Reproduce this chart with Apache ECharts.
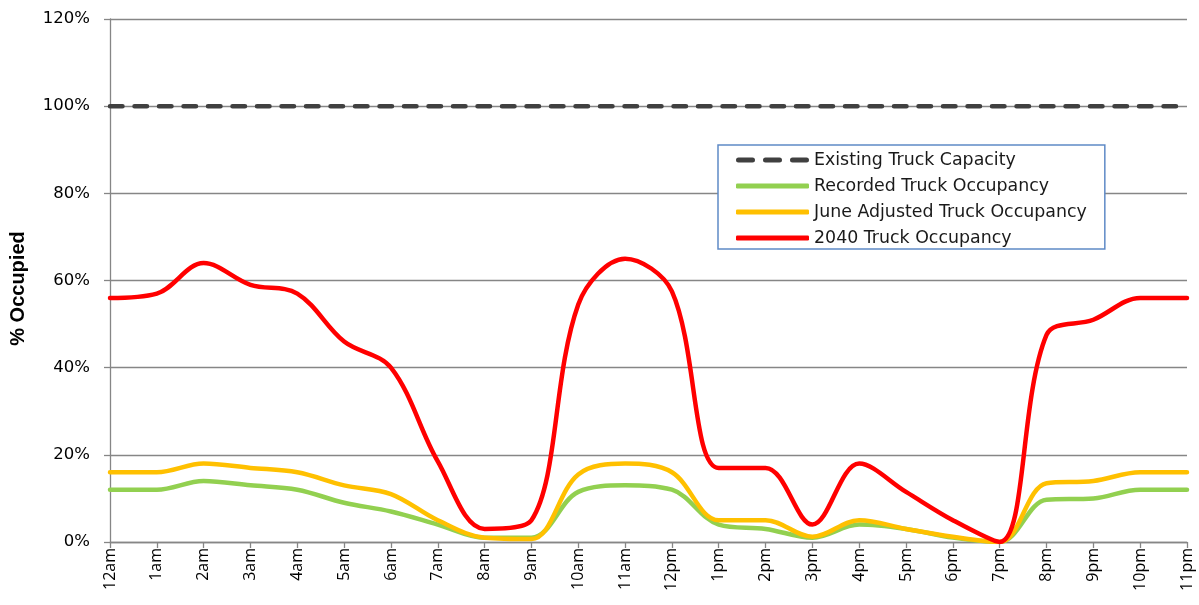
<!DOCTYPE html>
<html>
<head>
<meta charset="utf-8">
<title>Truck Parking Occupancy</title>
<script src="https://cdn.jsdelivr.net/npm/echarts@6/dist/echarts.min.js"></script>
<style>
  html, body { margin: 0; padding: 0; background: #ffffff; }
  #chart { width: 1199px; height: 605px; }
</style>
</head>
<body>
<div id="chart"></div>
<script>
// Hour-of-day categories
var hours = ['12am','1am','2am','3am','4am','5am','6am','7am','8am','9am','10am','11am',
             '12pm','1pm','2pm','3pm','4pm','5pm','6pm','7pm','8pm','9pm','10pm','11pm'];

// Occupancy by hour, in percent
var capacity = [100,100,100,100,100,100,100,100,100,100,100,100,
                100,100,100,100,100,100,100,100,100,100,100,100];
var recorded = [12,12,14,13,12,9,7,4,1,1,11.5,13,12,4,3,1,4,3,1,0,9.7,10,12,12];
var juneAdjusted = [16,16,18,17,16,13,11,5,1,0.7,15.5,18,16,5,5,1.2,5,3,1.2,0,13.5,14,16,16];
var occupancy2040 = [56,57,64,59,57,46,40,18.5,3,5,54.5,65,57.5,17,17,4,18,11.5,5,0,47.5,51,56,56];

// Y-axis ticks
var yTicks = [0,20,40,60,80,100,120];

var seriesNames = ['Existing Truck Capacity','Recorded Truck Occupancy',
                   'June Adjusted Truck Occupancy','2040 Truck Occupancy'];
var seriesColors = ['#404040','#92d050','#ffc000','#ff0000'];

var FONT = '"DejaVu Sans", "Noto Sans", sans-serif';
var TICK_FONT = '"Open Sans", "Noto Sans", sans-serif';
var GRID_GRAY = '#868686';
var SMOOTH = 0.35;

// Legend keys: a dashed bar for capacity, solid rounded bars for occupancy
var DASH_ICON = 'path://M2,0h14a2,2 0 0 1 0,5h-14a2,2 0 0 1 0,-5z' +
                'M29,0h14a2,2 0 0 1 0,5h-14a2,2 0 0 1 0,-5z' +
                'M56,0h14a2,2 0 0 1 0,5h-14a2,2 0 0 1 0,-5z';

var chart = echarts.init(document.getElementById('chart'), null, { renderer: 'canvas' });

function lineSeries(name, data, color, extra) {
  var s = {
    name: name,
    type: 'line',
    data: data,
    smooth: SMOOTH,
    symbol: 'none',
    showSymbol: false,
    clip: true,
    lineStyle: { color: color, width: 4.5, cap: 'round', join: 'round' },
    itemStyle: { color: color },
    emphasis: { disabled: true },
    animation: false
  };
  if (extra) {
    for (var k in extra) s[k] = extra[k];
  }
  return s;
}

var legendData = seriesNames.map(function (n, i) {
  return {
    name: n,
    icon: i === 0 ? DASH_ICON : 'roundRect',
    itemStyle: { color: seriesColors[i], borderWidth: 0 }
  };
});

var option = {
  backgroundColor: '#ffffff',
  animation: false,
  grid: { left: 110, right: 12, top: 19, bottom: 63, containLabel: false },
  legend: {
    orient: 'vertical',
    left: 718,
    top: 145,
    padding: [6.5, 18, 2.5, 18],
    itemGap: 9,
    itemWidth: 73,
    itemHeight: 5,
    backgroundColor: '#ffffff',
    borderColor: '#5f8ac6',
    borderWidth: 1.5,
    borderRadius: 0,
    selectedMode: false,
    textStyle: { fontFamily: FONT, fontSize: 17.4, color: '#1a1a1a' },
    data: legendData
  },
  xAxis: {
    type: 'category',
    data: hours,
    boundaryGap: false,
    axisLine: { show: true, lineStyle: { color: GRID_GRAY, width: 1.3 } },
    axisTick: { show: true, interval: 0, length: 6, lineStyle: { color: GRID_GRAY, width: 1.3 } },
    axisLabel: {
      interval: 0,
      rotate: 90,
      margin: 6,
      fontFamily: TICK_FONT,
      fontSize: 16,
      color: '#000000'
    },
    splitLine: { show: false }
  },
  yAxis: {
    type: 'value',
    min: yTicks[0],
    max: yTicks[yTicks.length - 1],
    interval: yTicks[1] - yTicks[0],
    name: '% Occupied',
    nameLocation: 'middle',
    nameGap: 82,
    nameRotate: 90,
    nameTextStyle: {
      fontFamily: '"Liberation Sans", Arial, sans-serif',
      fontWeight: 'bold',
      fontSize: 20,
      color: '#000000',
      padding: [0, 16, 0, 0]
    },
    axisLine: { show: true, lineStyle: { color: GRID_GRAY, width: 1.3 } },
    axisTick: { show: true, length: 6, lineStyle: { color: GRID_GRAY, width: 1.3 } },
    axisLabel: {
      margin: 20,
      fontFamily: FONT,
      fontSize: 16.5,
      color: '#000000',
      formatter: '{value}%'
    },
    splitLine: { show: true, lineStyle: { color: GRID_GRAY, width: 1.3 } }
  },
  series: [
    lineSeries(seriesNames[0], capacity, seriesColors[0], {
      smooth: false,
      lineStyle: { color: seriesColors[0], width: 4.5, type: [12.5, 12], cap: 'round', join: 'round' }
    }),
    lineSeries(seriesNames[1], recorded, seriesColors[1]),
    lineSeries(seriesNames[2], juneAdjusted, seriesColors[2]),
    lineSeries(seriesNames[3], occupancy2040, seriesColors[3])
  ]
};

chart.setOption(option);
</script>
</body>
</html>
